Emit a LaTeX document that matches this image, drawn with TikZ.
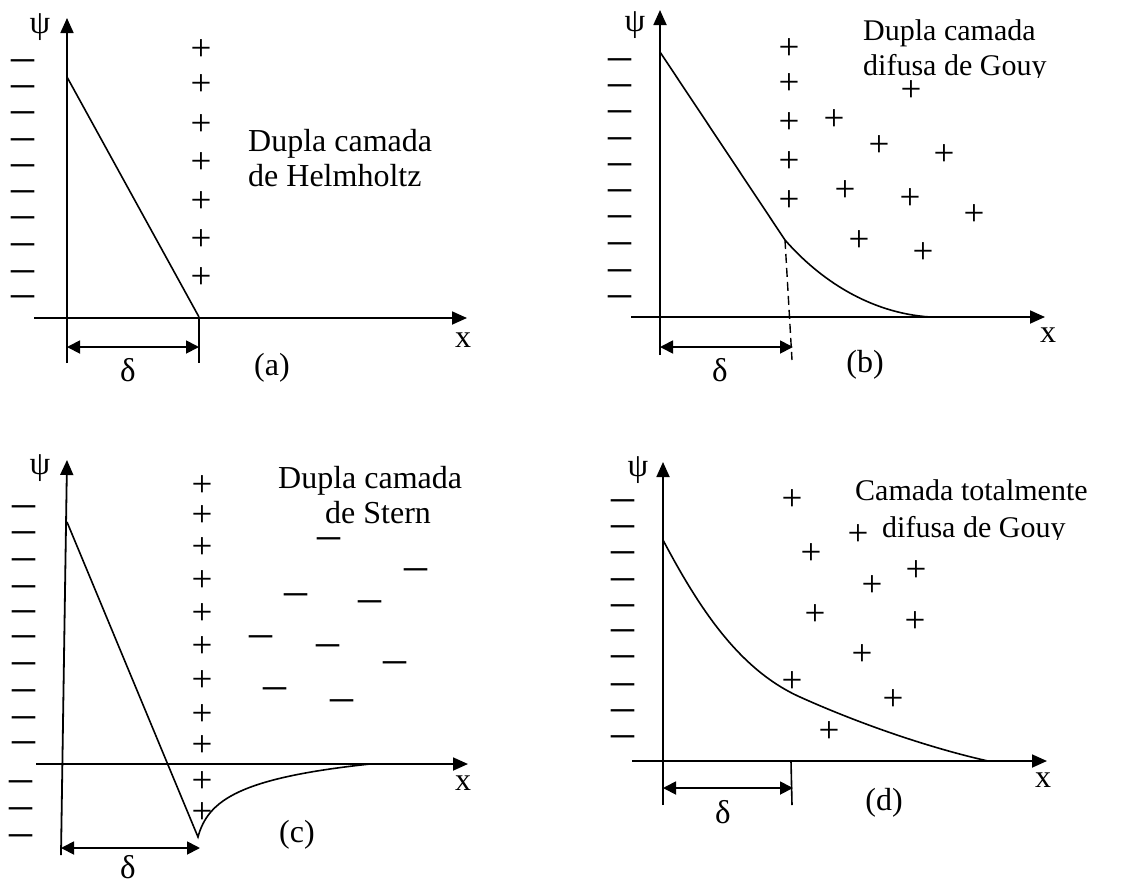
\documentclass[tikz,border=0pt]{standalone}
\usepackage{fontspec}
\setmainfont{Liberation Serif}
\usetikzlibrary{arrows.meta}
\begin{document}
\begin{tikzpicture}[x=1pt,y=-1pt,
  axis/.style={line width=1.8pt,-{Triangle[length=15pt,width=13pt]}},
  dimarr/.style={line width=1.8pt,{Triangle[length=13pt,width=13pt]}-{Triangle[length=13pt,width=13pt]}},
  curve/.style={line width=1.6pt},
  tickline/.style={line width=1.6pt},
  plussign/.style={font=\fontsize{37}{37}\selectfont, inner sep=0pt, yshift=-3pt},
  minussign/.style={font=\fontsize{46}{46}\selectfont, inner sep=0pt, yshift=-9pt},
  lbl/.style={font=\fontsize{32}{32}\selectfont, inner sep=0pt},
  greek/.style={font=\fontsize{33}{33}\selectfont, inner sep=0pt},
  ttlbig/.style={anchor=base west, inner sep=0pt, font=\fontsize{32}{32}\selectfont},
  ttlsmall/.style={anchor=base west, inner sep=0pt, font=\fontsize{30}{30}\selectfont},
]
\useasboundingbox (0,0) rectangle (1125,884);

% ================= Panel (a) =================
\coordinate (ayb) at (67,363);
\coordinate (ayt) at (67,18);
\coordinate (axl) at (34,318);
\coordinate (axr) at (467,318);
\draw[axis] (ayb) -- (ayt);
\draw[axis] (axl) -- (axr);
\node[greek] (apsi) at (40,27) {ψ};
\node[lbl] (ax) at (463,340) {x};
\foreach \y [count=\i] in {57,83,109,136,162,188,214,241,268,293}
  \node[minussign] (ama\i) at (23,\y) {–};
\foreach \y [count=\i] in {47,82,122,160,199,237,275}
  \node[plussign] (apa\i) at (201,\y) {+};
\coordinate (atop) at (67,77);
\coordinate (aend) at (199,317);
\coordinate (atick) at (199,363);
\draw[curve] (atop) -- (aend);
\draw[tickline] (aend) -- (atick);
\coordinate (ad1) at (67,347);
\coordinate (ad2) at (199,347);
\draw[dimarr] (ad1) -- (ad2);
\node[greek] (adelta) at (128,370) {δ};
\node[lbl] (alab) at (272,368) {(a)};
\node[ttlbig] (at1) at (248,151) {Dupla camada};
\node[ttlbig] (at2) at (248,186) {de Helmholtz};

% ================= Panel (b) =================
\coordinate (byb) at (660,355);
\coordinate (byt) at (660,10);
\coordinate (bxl) at (631,317);
\coordinate (bxr) at (1045,317);
\draw[axis] (byb) -- (byt);
\draw[axis] (bxl) -- (bxr);
\node[greek] (bpsi) at (635,25) {ψ};
\node[lbl] (bx) at (1048,335) {x};
\foreach \y [count=\i] in {56,82,108,135,161,187,213,240,267,293}
  \node[minussign] (bma\i) at (620,\y) {–};
\foreach \x/\y [count=\i] in {789/46,789/81,789/120,789/159,789/198,911/88,834/117,879/143,944/152,845/188,910/196,974/212,859/238,923/250}
  \node[plussign] (bpa\i) at (\x,\y) {+};
\coordinate (btop) at (660,52);
\coordinate (bknee) at (785,240);
\coordinate (bend) at (930,317);
\draw[curve] (btop) -- (bknee) .. controls (820,280) and (870,313) .. (bend);
\coordinate (bdash) at (792,360);
\draw[line width=1.4pt, dash pattern=on 9pt off 5pt] (bknee) -- (bdash);
\coordinate (bd1) at (660,347);
\coordinate (bd2) at (793,347);
\draw[dimarr] (bd1) -- (bd2);
\node[greek] (bdelta) at (720,370) {δ};
\node[lbl] (blab) at (865,365) {(b)};
\node[ttlsmall] (bt1) at (863,40) {Dupla camada};
\begin{scope}
  \clip (850,45) rectangle (1060,77);
  \node[ttlsmall] (bt2) at (863,75) {difusa de Gouy};
\end{scope}

% ================= Panel (c) =================
\coordinate (cyb) at (61,855);
\coordinate (cyt) at (67,460);
\coordinate (cxl) at (36,764);
\coordinate (cxr) at (468,764);
\draw[axis] (cyb) -- (cyt);
\draw[axis] (cxl) -- (cxr);
\node[greek] (cpsi) at (40,468) {ψ};
\node[lbl] (cx) at (463,783) {x};
\foreach \y [count=\i] in {503,529,556,583,608,633,660,687,714,739}
  \node[minussign] (cma\i) at (24,\y) {–};
\foreach \y [count=\i] in {778,805,832}
  \node[minussign] (cmb\i) at (21,\y) {–};
\foreach \y [count=\i] in {483,513,545,578,611,644,678,712,743,779,810}
  \node[plussign] (cpa\i) at (202,\y) {+};
\foreach \x/\y [count=\i] in {329/535,416/566,296/591,370/598,261/633,328/642,395/659,275/685,342/697}
  \node[minussign] (cmc\i) at (\x,\y) {–};
\coordinate (ctop) at (67,522);
\coordinate (cbot) at (198,837);
\coordinate (cend) at (370,764);
\draw[curve] (ctop) -- (cbot) .. controls (208,800) and (240,778) .. (cend);
\coordinate (cd1) at (61,848);
\coordinate (cd2) at (200,848);
\draw[dimarr] (cd1) -- (cd2);
\node[greek] (cdelta) at (128,867) {δ};
\node[lbl] (clab) at (297,835) {(c)};
\node[ttlbig] (ct1) at (278,488) {Dupla camada};
\node[ttlbig] (ct2) at (325,523) {de Stern};

% ================= Panel (d) =================
\coordinate (dyb) at (663,805);
\coordinate (dyt) at (663,462);
\coordinate (dxl) at (632,761);
\coordinate (dxr) at (1047,761);
\draw[axis] (dyb) -- (dyt);
\draw[axis] (dxl) -- (dxr);
\node[greek] (dpsi) at (638,470) {ψ};
\node[lbl] (dx) at (1043,780) {x};
\foreach \y [count=\i] in {497,523,549,576,602,627,653,681,707,733}
  \node[minussign] (dma\i) at (623,\y) {–};
\foreach \x/\y [count=\i] in {792/497,858/532,811/551,916/568,872/583,815/612,915/619,862/652,792/679,893/697,829/729}
  \node[plussign] (dpa\i) at (\x,\y) {+};
\coordinate (dtop) at (663,540);
\coordinate (dmid) at (800,697);
\coordinate (dend) at (988,761);
\draw[curve] (dtop) .. controls (700,610) and (740,670) .. (dmid) .. controls (860,724) and (930,748) .. (dend);
\coordinate (dtk1) at (791,761);
\coordinate (dtk2) at (792,805);
\draw[tickline] (dtk1) -- (dtk2);
\coordinate (dd1) at (663,788);
\coordinate (dd2) at (793,788);
\draw[dimarr] (dd1) -- (dd2);
\node[greek] (ddelta) at (723,812) {δ};
\node[lbl] (dlab) at (884,803) {(d)};
\node[ttlsmall] (dt1) at (855,500) {Camada totalmente};
\begin{scope}
  \clip (875,505) rectangle (1100,539);
  \node[ttlsmall] (dt2) at (882,537) {difusa de Gouy};
\end{scope}
\end{tikzpicture}
\end{document}
